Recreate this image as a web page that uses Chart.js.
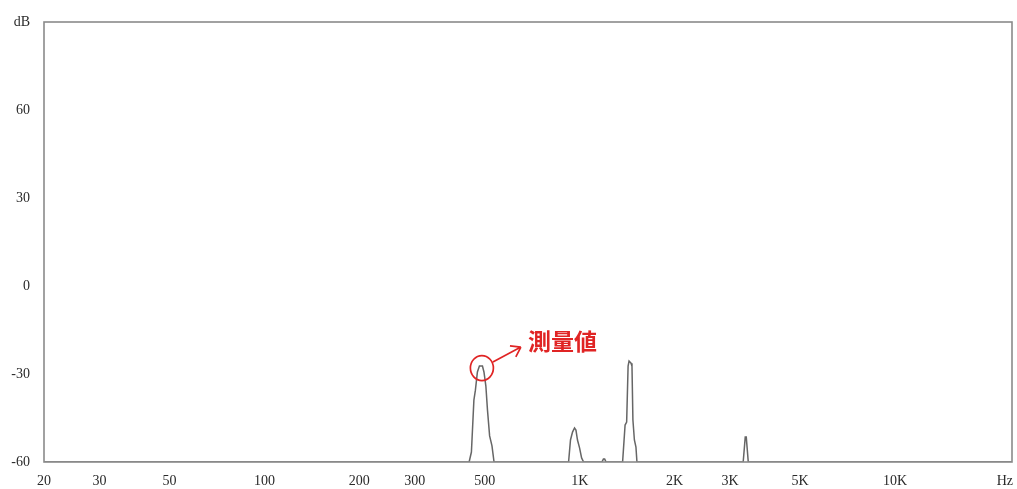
<!DOCTYPE html>
<html>
<head>
<meta charset="utf-8">
<script src="https://cdn.jsdelivr.net/npm/chart.js@4"></script>
<style>
  html, body { margin: 0; padding: 0; background: #fff; }
  #wrap { width: 1017px; height: 489px; }
</style>
</head>
<body>
<div id="wrap"><canvas id="chartSpectrum"></canvas></div>
<script>
// spectrum (Hz, dB)
const freqHz = [20,
    446, 453.5, 458.6, 461.8, 466.9, 473.8, 480.8, 491.6, 497, 504, 510, 518, 527, 535,
    922, 935, 949, 963, 973, 984, 999, 1014, 1029,
    1176, 1189, 1200, 1213,
    1368, 1393, 1409, 1424, 1434, 1455, 1465, 1475, 1491, 1508, 1519,
    3300, 3350, 3375, 3425,
    23500];
const levelDb = [-60,
    -60, -56.6, -45.7, -38.9, -35.5, -29.3, -27.3, -27.3, -29.3, -34.1, -42.3, -51.1, -54.5, -60,
    -60, -52.5, -49.8, -48.4, -49.1, -52.5, -55.2, -58.6, -60,
    -60, -59, -59, -60,
    -60, -47.4, -46.4, -27.3, -25.6, -26.3, -27.3, -45.7, -52.5, -54.9, -60,
    -60, -51.5, -51.5, -60,
    -60];

const xTickValues = [20, 30, 50, 100, 200, 300, 500, 1000, 2000, 3000, 5000, 10000, 22300];
const xTickLabels = ["20", "30", "50", "100", "200", "300", "500", "1K", "2K", "3K", "5K", "10K", "Hz"];
const yTickValues = [-60, -30, 0, 30, 60, 90];
const yTickLabels = ["-60", "-30", "0", "30", "60", "dB"];

// marked point
const markFreq = 486;
const markDb = -27.3;
const markText = "測量値";

const points = freqHz.map((f, i) => ({ x: f, y: levelDb[i] }));

const framePlugin = {
    id: "frame",
    afterDraw(chart) {
        const { ctx, chartArea: a } = chart;
        ctx.save();
        ctx.strokeStyle = "#8a8a8a";
        ctx.lineWidth = 1.6;
        ctx.strokeRect(a.left, a.top, a.right - a.left, a.bottom - a.top);
        ctx.restore();
    }
};

const markPlugin = {
    id: "mark",
    afterDraw(chart) {
        const ctx = chart.ctx;
        const cx = chart.scales.x.getPixelForValue(markFreq) + 1;
        const cy = chart.scales.y.getPixelForValue(markDb) + 2;
        ctx.save();
        ctx.strokeStyle = "#e02424";
        ctx.fillStyle = "#e02424";
        ctx.lineWidth = 1.7;
        ctx.beginPath();
        ctx.ellipse(cx, cy, 11.5, 12.5, 0, 0, Math.PI * 2);
        ctx.stroke();
        // arrow
        const x0 = cx + 11, y0 = cy - 6, x1 = cx + 39, y1 = cy - 21;
        ctx.beginPath();
        ctx.moveTo(x0, y0);
        ctx.lineTo(x1, y1);
        const ang = Math.atan2(y1 - y0, x1 - x0);
        ctx.moveTo(x1, y1);
        ctx.lineTo(x1 - 11 * Math.cos(ang - 0.6), y1 - 11 * Math.sin(ang - 0.6));
        ctx.moveTo(x1, y1);
        ctx.lineTo(x1 - 11 * Math.cos(ang + 0.6), y1 - 11 * Math.sin(ang + 0.6));
        ctx.stroke();
        ctx.font = "bold 23px 'Noto Sans CJK JP'";
        ctx.textBaseline = "middle";
        ctx.fillText(markText, cx + 46, cy - 27);
        ctx.restore();
    }
};

const config = {
    type: "line",
    data: {
        datasets: [{
            data: points,
            borderColor: "#666",
            borderWidth: 1.5,
            pointRadius: 0,
            tension: 0,
            fill: false
        }]
    },
    options: {
        responsive: true,
        maintainAspectRatio: false,
        animation: false,
        layout: { padding: { top: 22, right: 5, left: 0, bottom: 0 } },
        plugins: { legend: { display: false }, tooltip: { enabled: false } },
        scales: {
            x: {
                type: "logarithmic",
                min: 20,
                max: 23500,
                grid: { display: false, drawTicks: false },
                border: { display: false },
                afterBuildTicks: s => { s.ticks = xTickValues.map(v => ({ value: v })); },
                afterFit: s => { s.height = 27; s.paddingLeft = 0; s.paddingRight = 0; },
                ticks: {
                    autoSkip: false,
                    maxRotation: 0,
                    padding: 11,
                    color: "#2a2a2a",
                    font: { family: "'Liberation Serif'", size: 14 },
                    callback: (v, i) => xTickLabels[i]
                }
            },
            y: {
                min: -60,
                max: 90,
                grid: { display: false, drawTicks: false },
                border: { display: false },
                afterBuildTicks: s => { s.ticks = yTickValues.map(v => ({ value: v })); },
                afterFit: s => { s.width = 44; s.paddingTop = 0; s.paddingBottom = 0; },
                ticks: {
                    padding: 14,
                    color: "#2a2a2a",
                    font: { family: "'Liberation Serif'", size: 14 },
                    callback: (v, i) => yTickLabels[i]
                }
            }
        }
    },
    plugins: [framePlugin, markPlugin]
};

new Chart(document.getElementById("chartSpectrum"), config);
</script>
</body>
</html>
